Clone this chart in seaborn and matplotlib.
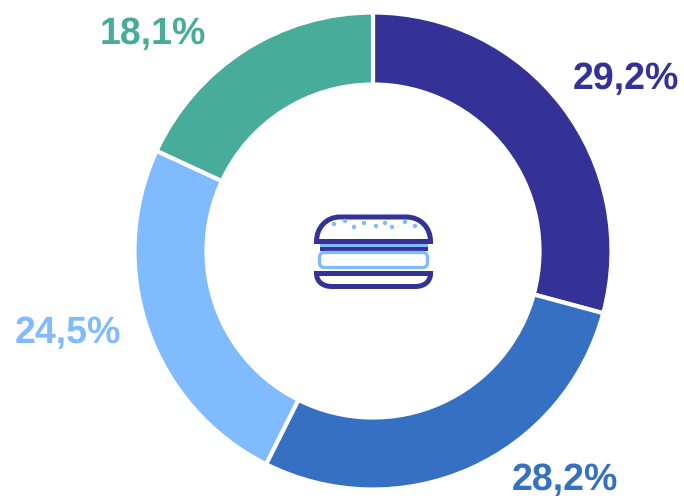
import matplotlib
matplotlib.use("Agg")
import matplotlib.pyplot as plt
import seaborn as sns
from matplotlib.patches import PathPatch, FancyBboxPatch, Rectangle, Circle
from matplotlib.path import Path

shares = [29.2, 28.2, 24.5, 18.1]
labels = ["29,2%", "28,2%", "24,5%", "18,1%"]
colors = ["#353297", "#3670C2", "#80BBFF", "#47AC99"]
label_pos = [(626, 79), (564.5, 480), (68, 333), (153, 34)]

sns.set_theme(style="white")
plt.rcParams["font.family"] = ["Liberation Sans", "DejaVu Sans"]
plt.rcParams["text.hinting"] = "none"
sns.set_palette(colors)

fig = plt.figure(figsize=(6.84, 4.98), dpi=100)
ax = fig.add_axes([0, 0, 1, 1])

# centre et rayons en pixels de l'image
ax.pie(
    shares,
    colors=sns.color_palette(),
    startangle=90,
    counterclock=False,
    center=(373, 498 - 251),
    radius=238.5,
    frame=True,
    wedgeprops={"width": 72, "edgecolor": "white", "linewidth": 3},
)
ax.set_xlim(0, 684)
ax.set_ylim(0, 498)
ax.set_aspect("equal")
ax.axis("off")

for lab, (x, y), c in zip(labels, label_pos, colors):
    ax.text(x, 498 - y, lab, color=c, fontsize=27, fontweight="bold",
            ha="center", va="center")

# icône burger, axe y vers le bas
icon = fig.add_axes([0, 0, 1, 1])
icon.set_xlim(0, 684)
icon.set_ylim(498, 0)
icon.axis("off")
icon.patch.set_alpha(0)

navy, light = colors[0], colors[2]

top_bun = Path(
    [(316.5, 241.5), (316.5, 228), (326, 217), (340, 217), (406, 217),
     (421, 217), (430.5, 228), (430.5, 241.5), (316.5, 241.5)],
    [Path.MOVETO, Path.CURVE4, Path.CURVE4, Path.CURVE4, Path.LINETO,
     Path.CURVE4, Path.CURVE4, Path.CURVE4, Path.CLOSEPOLY],
)
icon.add_patch(PathPatch(top_bun, fc="white", ec=navy, lw=3.6, joinstyle="miter"))

icon.add_patch(Rectangle((320, 244), 108, 3, fc=light, ec="none"))
icon.add_patch(Rectangle((320, 247), 108, 4, fc=navy, ec="none"))

icon.add_patch(FancyBboxPatch((319.5, 252.5), 108, 15, boxstyle="round,pad=0,rounding_size=5",
                              fc="white", ec=light, lw=2.4))

bottom_bun = Path(
    [(316.5, 273.5), (430.5, 273.5), (430.5, 281), (425, 286.5), (415, 286.5), (332, 286.5),
     (322, 286.5), (316.5, 281), (316.5, 273.5), (316.5, 273.5)],
    [Path.MOVETO, Path.LINETO, Path.CURVE4, Path.CURVE4, Path.CURVE4, Path.LINETO,
     Path.CURVE4, Path.CURVE4, Path.CURVE4, Path.CLOSEPOLY],
)
icon.add_patch(PathPatch(bottom_bun, fc="white", ec=navy, lw=3.6, joinstyle="miter"))

seeds = [(334, 224), (345, 221), (354, 227), (364, 223), (376, 226),
         (385, 223), (392, 227), (405, 222), (415, 226)]
for sx, sy in seeds:
    icon.add_patch(Circle((sx, sy), 2.2, fc=light, ec="none"))

fig.savefig("out.png", dpi=100)
